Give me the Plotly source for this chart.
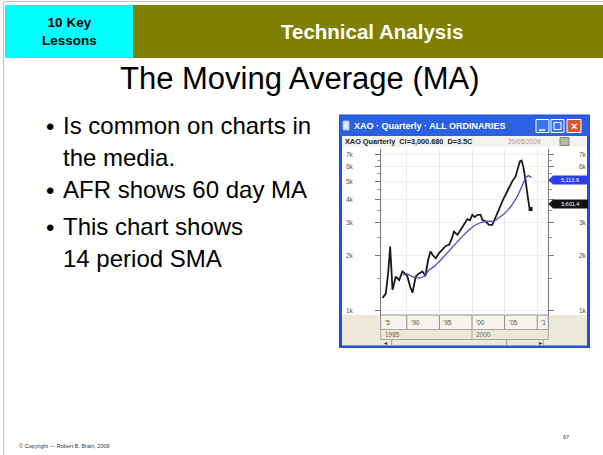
import math
import plotly.graph_objects as go

# ---------------- data ----------------
price_year = [1986.28, 1986.79, 1987.14, 1987.45, 1987.81, 1988.32, 1988.83, 1989.34, 1989.69,
              1990.10, 1990.51, 1990.87, 1991.38, 1991.89, 1992.40, 1992.86, 1993.27, 1993.62,
              1993.98, 1994.44, 1994.95, 1995.46, 1995.97, 1996.48, 1996.84, 1997.24, 1997.76,
              1998.27, 1998.78, 1999.29, 1999.69, 2000.05, 2000.41, 2000.82, 2001.33, 2001.58,
              2002.09, 2002.60, 2003.11, 2003.62, 2004.13, 2004.64, 2005.15, 2005.66, 2006.17,
              2006.68, 2007.04, 2007.35, 2007.60, 2007.86, 2008.16, 2008.42, 2008.62, 2008.78,
              2008.98]
price_value = [1170, 1240, 1590, 2220, 1295, 1530, 1465, 1630, 1590,
               1530, 1350, 1250, 1530, 1590, 1630, 1540, 1880, 2090,
               2000, 1920, 2050, 2130, 2240, 2270, 2420, 2680, 2570,
               2740, 2915, 3130, 3080, 3300, 3210, 3300, 3300, 3100,
               3040, 2915, 2915, 3170, 3520, 3900, 4240, 4670, 5010,
               5330, 5920, 6430, 6500, 6040, 5220, 4610, 3980, 3660,
               3550]

sma_year = [1989.39, 1989.85, 1990.36, 1991.12, 1991.89, 1992.65, 1993.42, 1994.18, 1995.20,
            1996.22, 1997.24, 1998.27, 1999.29, 2000.31, 2001.33, 2002.35, 2003.37, 2004.13,
            2004.90, 2005.92, 2006.94, 2007.70, 2008.21, 2008.62, 2009.13]
sma_value = [1560, 1590, 1560, 1515, 1500, 1530, 1660, 1730, 1880,
             2060, 2270, 2470, 2680, 2880, 3000, 3050, 3040, 3170,
             3330, 3640, 4150, 4750, 5220, 5380, 5270]

y_tick_vals = [1000, 2000, 3000, 4000, 5000, 6000, 7000]
y_tick_text = ["1k", "2k", "3k", "4k", "5k", "6k", "7k"]
y_minor_vals = [1500, 2500, 3500, 4500, 5500, 6500]

x_cell_starts = [1990, 1995, 2000, 2005, 2010]
x_cell_labels = ["'5", "'90", "'95", "'00", "'05", "'1"]
x_cell_label_pos = [1986.3, 1990.3, 1995.3, 2000.3, 2005.3, 2010.3]
decade_labels = ["1985", "2000"]
decade_pos = [1986.3, 2000.3]

bullets = [["Is common on charts in", "the media."],
           ["AFR shows 60 day MA"],
           ["This chart shows", "14 period SMA"]]

# ---------------- helpers ----------------
W, H = 603, 455
FONT = "Liberation Sans, Arial, sans-serif"


def px(x):
    return x / W


def py(y):
    return 1 - y / H


shapes = []
annotations = []


def rect(x0, y0, x1, y1, fill, line=None, lw=1, layer="below"):
    shapes.append(dict(type="rect", xref="paper", yref="paper",
                       x0=px(x0), x1=px(x1), y0=py(y1), y1=py(y0),
                       fillcolor=fill, layer=layer,
                       line=dict(color=line or fill, width=lw if line else 0)))


def hline(x0, x1, y, color, w=1, layer="above"):
    shapes.append(dict(type="line", xref="paper", yref="paper",
                       x0=px(x0), x1=px(x1), y0=py(y), y1=py(y),
                       line=dict(color=color, width=w), layer=layer))


def vline(x, y0, y1, color, w=1, layer="above"):
    shapes.append(dict(type="line", xref="paper", yref="paper",
                       x0=px(x), x1=px(x), y0=py(y0), y1=py(y1),
                       line=dict(color=color, width=w), layer=layer))


def text(x, y, s, size, color="black", xanchor="left", yanchor="middle", bold=False):
    annotations.append(dict(xref="paper", yref="paper", x=px(x), y=py(y),
                            text=("<b>%s</b>" % s) if bold else s, showarrow=False,
                            xanchor=xanchor, yanchor=yanchor,
                            font=dict(family=FONT, size=size, color=color)))


# ---------------- slide ----------------
hline(3.5, 603, 1.5, "#c4c4c4", 1, "below")
vline(3.5, 1.5, 455, "#c4c4c4", 1, "below")
rect(5, 5, 133, 58, "#00ffff")
rect(133, 5, 603, 58, "#808000")
text(69, 31.5, "10 Key<br>Lessons", 13.5, "black", "center", bold=True)
text(372, 32, "Technical Analysis", 20.5, "white", "center", bold=True)
text(300, 78, "The Moving Average (MA)", 31, "black", "center")

baselines = [[134, 166], [198.5], [235, 267]]
for lines, bls in zip(bullets, baselines):
    text(50, bls[0] - 8, "•", 24, "black", "center")
    for s, b in zip(lines, bls):
        text(61, b - 8.6, s, 24, "black", "left")

text(17, 446, "© Copyright — Robert B. Brain, 2009", 5.5, "#333333", "left")
text(561, 437, "67", 5.5, "#333333", "left")

# ---------------- embedded chart window ----------------
rect(339, 114.5, 590, 348, "#1f50d6")
rect(340, 115.5, 589, 136, "#2b60e2")
text(352, 126, "XAO · Quarterly · ALL ORDINARIES", 9, "white", "left", bold=True)
rect(343, 121, 349, 130, "#dde6f6", "#9fb6e6")
rect(536, 119.5, 549, 132.5, "#3b74f0", "white", 1)
rect(551, 119.5, 564, 132.5, "#3b74f0", "white", 1)
rect(567, 119.5, 581, 132.5, "#dd5a30", "white", 1)
hline(539, 545, 130, "white", 1.5)
rect(554, 122.5, 561, 129.5, "rgba(0,0,0,0)", "white", 1, "above")
text(574, 126, "×", 11, "white", "center", bold=True)

rect(342, 136, 587, 345.5, "#ece9d8")
rect(342, 136, 587, 146.5, "#f3f2ec")
text(343, 141.5, "XAO Quarterly  Cl=3,000.680  D=3.5C", 7.3, "#222222", "left", bold=True)
text(506, 141.5, "20/05/2009", 6.5, "#c09090", "left")
rect(560, 137.5, 569, 145.5, "#b8b8a8", "#8a8a7a")
rect(342, 146.5, 587, 315, "white")

# y labels (left / right) and price tags
for v, t in zip(y_tick_vals, y_tick_text):
    annotations.append(dict(xref="paper", yref="y", x=px(344), y=math.log10(v), text=t,
                            showarrow=False, xanchor="left", yanchor="middle",
                            font=dict(family=FONT, size=6.5, color="#555555")))
    if t not in ("4k", "5k"):
        annotations.append(dict(xref="paper", yref="y", x=px(577), y=math.log10(v), text=t,
                                showarrow=False, xanchor="left", yanchor="middle",
                                font=dict(family=FONT, size=6.5, color="#555555")))


def tag(yc, fill, label):
    path = "M %f %f L %f %f L %f %f L %f %f L %f %f Z" % (
        px(548.5), py(yc), px(553), py(yc - 4.5), px(588), py(yc - 4.5),
        px(588), py(yc + 4.5), px(553), py(yc + 4.5))
    shapes.append(dict(type="path", xref="paper", yref="paper", path=path,
                       fillcolor=fill, line=dict(width=0), layer="above"))
    text(570, yc, label, 5.5, "white", "center")


tag(180, "#2a3fe6", "5,113.6")
tag(204, "#111111", "3,601.4")

# bottom date strip
rect(380.7, 315, 548.3, 329.5, "#f6f4ec", "#8c8c8c", 1)
rect(380.7, 329.5, 548.3, 339.5, "#ece9d8", "#a8a8a0", 1)
for xs in x_cell_starts:
    shapes.append(dict(type="line", xref="x", yref="paper", x0=xs, x1=xs,
                       y0=py(329.5), y1=py(315), line=dict(color="#8c8c8c", width=1)))
shapes.append(dict(type="line", xref="x", yref="paper", x0=2000, x1=2000,
                   y0=py(339.5), y1=py(329.5), line=dict(color="#a8a8a0", width=1)))
for xs, t in zip(x_cell_label_pos, x_cell_labels):
    annotations.append(dict(xref="x", yref="paper", x=xs, y=py(322.5), text=t,
                            showarrow=False, xanchor="left", yanchor="middle",
                            font=dict(family=FONT, size=6.5, color="#555555")))
for xs, t in zip(decade_pos, decade_labels):
    annotations.append(dict(xref="x", yref="paper", x=xs, y=py(334.5), text=t,
                            showarrow=False, xanchor="left", yanchor="middle",
                            font=dict(family=FONT, size=6.5, color="#666666")))
text(385, 342.5, "◄", 5, "#222222", "center")
text(540, 342.5, "►", 5, "#222222", "center")
vline(391.7, 339.5, 345.5, "#9a9a90")
vline(506.7, 339.5, 345.5, "#9a9a90")
vline(543, 339.5, 345.5, "#9a9a90")

# ---------------- traces ----------------
fig = go.Figure()
fig.add_trace(go.Scatter(x=price_year, y=price_value, mode="lines",
                         line=dict(color="#1a1a1a", width=1.8), hoverinfo="skip"))
fig.add_trace(go.Scatter(x=sma_year, y=sma_value, mode="lines",
                         line=dict(color="#5548cc", width=1.3), hoverinfo="skip"))
fig.add_trace(go.Scatter(x=price_year[-1:], y=price_value[-1:], mode="markers", yaxis="y2",
                         marker=dict(symbol="square", size=4, color="#1a1a1a"), hoverinfo="skip"))

yr = [math.log10(947), math.log10(7500)]
dom_x = [px(380.7), px(548.3)]
dom_y = [py(315), py(149)]

fig.update_layout(
    width=W, height=H, autosize=False,
    margin=dict(l=0, r=0, t=0, b=0, pad=0),
    paper_bgcolor="white", plot_bgcolor="white",
    showlegend=False,
    xaxis=dict(domain=dom_x, range=[1986.0, 2011.7], tickvals=x_cell_starts,
               showticklabels=False, ticks="", showgrid=True, gridcolor="#ececec",
               zeroline=False, showline=False, fixedrange=True),
    yaxis=dict(domain=dom_y, type="log", range=yr, tickvals=y_tick_vals,
               showticklabels=False, ticks="outside", ticklen=5, tickcolor="#777777",
               showline=True, linecolor="#777777", linewidth=1,
               showgrid=True, gridcolor="#f0f0f0", zeroline=False, fixedrange=True,
               minor=dict(tickvals=y_minor_vals, ticks="outside", ticklen=3,
                          tickcolor="#999999", showgrid=False)),
    yaxis2=dict(overlaying="y", side="right", anchor="x", type="log", range=yr,
                tickvals=y_tick_vals, showticklabels=False, ticks="outside", ticklen=5,
                tickcolor="#777777", showline=True, linecolor="#777777", linewidth=1,
                showgrid=False, zeroline=False, fixedrange=True,
                minor=dict(tickvals=y_minor_vals, ticks="outside", ticklen=3,
                           tickcolor="#999999", showgrid=False)),
    shapes=shapes,
    annotations=annotations,
)

fig.write_html("out.html", config={"displayModeBar": False, "staticPlot": True},
               post_script="document.body.style.margin='0';document.body.style.overflow='hidden';")
